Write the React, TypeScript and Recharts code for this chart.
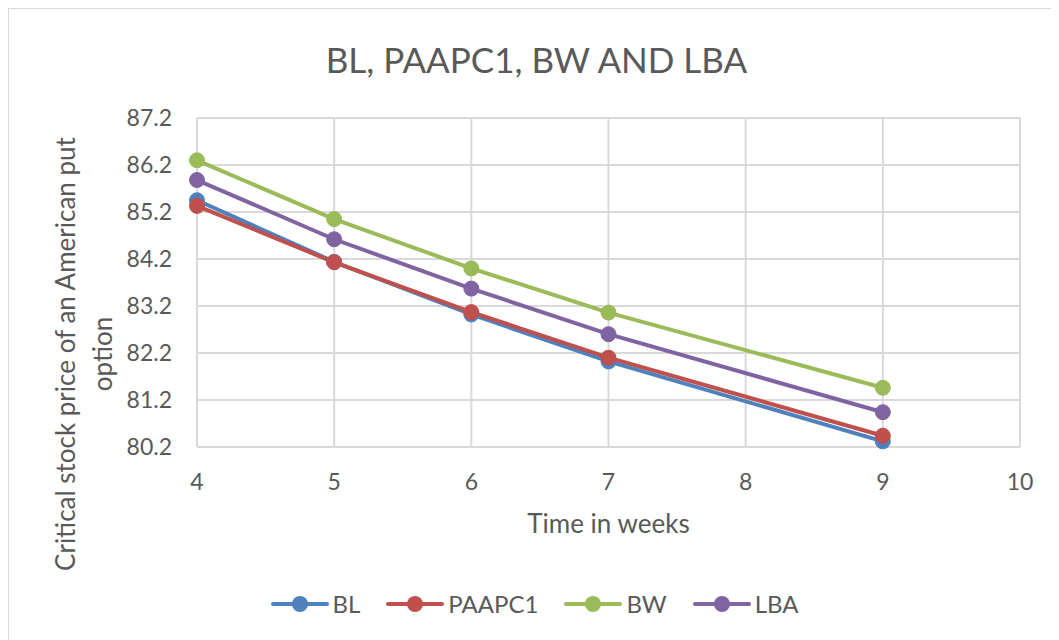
import { LineChart, Line, XAxis, YAxis, CartesianGrid } from 'recharts'

const WEEKS = [4, 5, 6, 7, 9]
const BL = [85.45, 84.14, 83.02, 82.02, 80.32]
const PAAPC1 = [85.33, 84.13, 83.07, 82.1, 80.44]
const BW = [86.3, 85.05, 84.0, 83.06, 81.46]
const LBA = [85.88, 84.62, 83.57, 82.6, 80.94]

const X_TICKS = [4, 5, 6, 7, 8, 9, 10]
const Y_TICKS = [80.2, 81.2, 82.2, 83.2, 84.2, 85.2, 86.2, 87.2]

const SERIES = [
  { key: 'BL', name: 'BL', color: '#4F81BD', values: BL },
  { key: 'PAAPC1', name: 'PAAPC1', color: '#C0504D', values: PAAPC1 },
  { key: 'BW', name: 'BW', color: '#9BBB59', values: BW },
  { key: 'LBA', name: 'LBA', color: '#8064A2', values: LBA },
]

const chartData = WEEKS.map((w, i) => {
  const row: Record<string, number> = { week: w }
  SERIES.forEach((s) => (row[s.key] = s.values[i]))
  return row
})

const FONT = 'Lato, "Open Sans", sans-serif'
const TEXT = '#595959'
const GRID = '#d9d9d9'

export default function App() {
  return (
    <div
      style={{
        position: 'relative',
        width: 1051,
        height: 631,
        borderLeft: '1px solid #d9d9d9',
        borderTop: '1px solid #d9d9d9',
        background: '#fff',
        fontFamily: FONT,
        color: TEXT,
      }}
    >
      <div style={{ position: 'absolute', top: 29, left: 2, width: 1051, textAlign: 'center', fontSize: 35 }}>
        BL, PAAPC1, BW AND LBA
      </div>

      {/* rotated two-line y axis title */}
      <div
        style={{
          position: 'absolute',
          left: 78 - 300,
          top: 345 - 40,
          width: 600,
          height: 80,
          transform: 'rotate(-90deg)',
          textAlign: 'center',
          fontSize: 26,
          lineHeight: '37px',
        }}
      >
        Critical stock price of an American put
        <br />
        option
      </div>

      <div style={{ position: 'absolute', top: 498, left: 188, width: 823, textAlign: 'center', fontSize: 26 }}>
        Time in weeks
      </div>

      <LineChart
        width={1051}
        height={631}
        data={chartData}
        margin={{ top: 109, right: 40, left: 0, bottom: 93 }}
        style={{ position: 'absolute', left: 0, top: 0 }}
      >
        <CartesianGrid stroke={GRID} strokeWidth={2} horizontalValues={Y_TICKS} verticalValues={X_TICKS} />
        <XAxis
          dataKey="week"
          type="number"
          domain={[4, 10]}
          ticks={X_TICKS}
          height={100}
          axisLine={false}
          tickLine={false}
          tickSize={0}
          tickMargin={27}
          tick={{ fill: TEXT, fontSize: 23, fontFamily: FONT }}
        />
        <YAxis
          type="number"
          domain={[80.2, 87.2]}
          ticks={Y_TICKS}
          width={188}
          axisLine={false}
          tickLine={false}
          tickSize={0}
          tickMargin={25}
          tickFormatter={(v: number) => v.toFixed(1)}
          tick={{ fill: TEXT, fontSize: 23, fontFamily: FONT }}
        />
        {SERIES.map((s) => (
          <Line
            key={s.key}
            dataKey={s.key}
            name={s.name}
            stroke={s.color}
            strokeWidth={4}
            dot={{ r: 7.5, fill: s.color, stroke: s.color, strokeWidth: 1 }}
            activeDot={false}
            isAnimationActive={false}
          />
        ))}
      </LineChart>

      <div
        style={{
          position: 'absolute',
          top: 580,
          left: 0,
          width: 1051,
          display: 'flex',
          justifyContent: 'center',
          gap: 26,
          fontSize: 24,
        }}
      >
        {SERIES.map((s) => (
          <div key={s.key} style={{ display: 'flex', alignItems: 'center', gap: 4 }}>
            <svg width={58} height={20}>
              <line x1={2} y1={10} x2={56} y2={10} stroke={s.color} strokeWidth={4} strokeLinecap="round" />
              <circle cx={29} cy={10} r={8} fill={s.color} />
            </svg>
            <span>{s.name}</span>
          </div>
        ))}
      </div>
    </div>
  )
}
